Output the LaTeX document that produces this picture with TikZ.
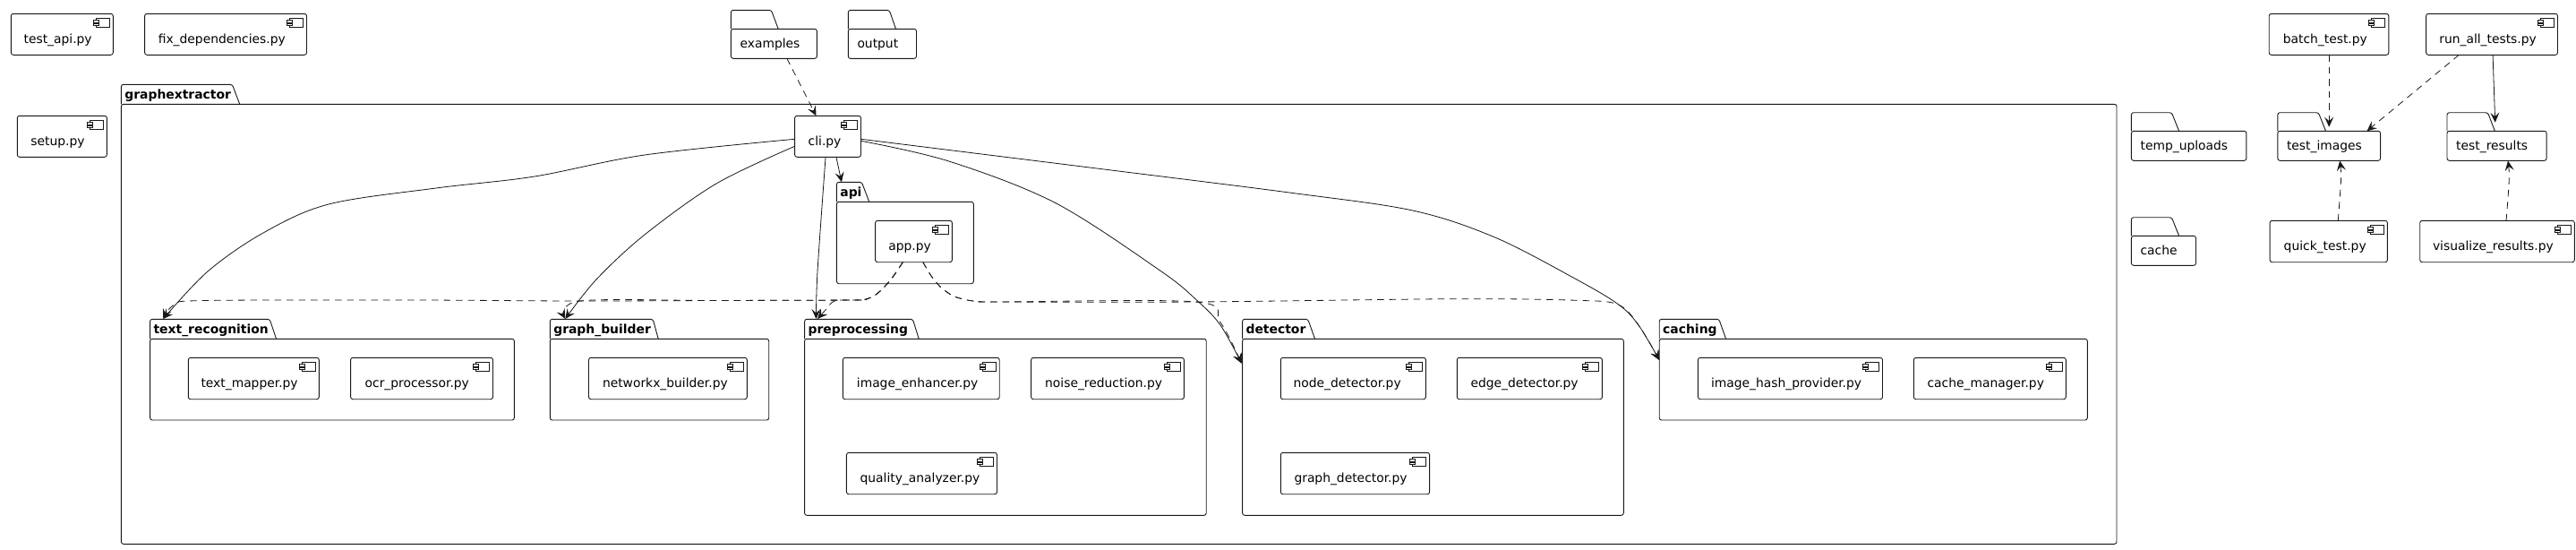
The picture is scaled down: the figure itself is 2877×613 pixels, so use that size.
\documentclass[tikz,border=0pt]{standalone}
\usepackage{fontspec}
\setmainfont{DejaVu Sans}
\usetikzlibrary{arrows.meta,calc}
\definecolor{umlline}{HTML}{181818}
\tikzset{
  boxline/.style={draw=umlline,line width=0.9pt,rounded corners=2.5pt,inner sep=0pt,outer sep=0pt},
  dep/.style={draw=umlline,line width=0.8pt,line join=round,-{Stealth[length=11pt,width=10pt,inset=4.5pt]}},
  use/.style={dep},
  dash7/.style={dash pattern=on 7.5pt off 6pt},
  wire/.style={smooth,tension=0.55},
  icon/.style={draw=umlline,line width=0.7pt,fill=white},
  pkgtitle/.style={inner sep=0pt,outer sep=0pt,anchor=base west,font=\fontsize{13.9}{16}\selectfont\bfseries},
}
% component: id x1 y1 x2 y2 textleft text
\newcommand{\comp}[7]{%
  \node[boxline,minimum width=#4pt-#2pt,minimum height=#5pt-#3pt,font=\fontsize{13.85}{16}\selectfont] (#1) at ({(#2+#4)/2},{(#3+#5)/2})
    {\makebox[\dimexpr#4pt-#2pt\relax][l]{\hspace{\dimexpr#6pt-#2pt\relax}\raisebox{-10pt}[0pt][0pt]{#7}}};
  \draw[icon] (#4-19.2,#3+5) rectangle (#4-4.2,#3+15.4);
  \draw[icon] (#4-22.2,#3+7.2) rectangle (#4-16.2,#3+9.8);
  \draw[icon] (#4-22.2,#3+10.8) rectangle (#4-16.2,#3+13.4);
}
% folder/package body: id x1 ytab ybody x2 y2 tabtopright tabbottomright
\newcommand{\pkgshape}[8]{%
  \coordinate (#1-tl) at (#2,#3);
  \draw[draw=umlline,line width=0.9pt,rounded corners=2.5pt] (#2,#4) -- (#2,#3) -- (#7,#3) -- (#8,#4);
}
% top level folder with its name in the body
\newcommand{\folder}[9]{%
  \pkgshape{#1}{#2}{#3}{#4}{#5}{#6}{#7}{#8}
  \node[boxline,minimum width=#5pt-#2pt,minimum height=#6pt-#4pt,font=\fontsize{13.85}{16}\selectfont] (#1) at ({(#2+#5)/2},{(#4+#6)/2})
    {\makebox[\dimexpr#5pt-#2pt\relax][l]{\hspace{10.2pt}\raisebox{-5pt}[0pt][0pt]{#9}}};
}
% package with its name in the tab
\newcommand{\package}[9]{%
  \pkgshape{#1}{#2}{#3}{#4}{#5}{#6}{#7}{#8}
  \node[boxline,minimum width=#5pt-#2pt,minimum height=#6pt-#4pt] (#1) at ({(#2+#5)/2},{(#4+#6)/2}) {};
  \node[pkgtitle] (#1-title) at (#2+4,#4-5.5) {#9};
}
\begin{document}
\begin{tikzpicture}[x=1pt,y=-1pt]
\useasboundingbox (0,0) rectangle (2877,613);
\fill[white] (0,0) rectangle (2877,613);

\comp{testapi}{12.4}{15.3}{126.3}{61.3}{26.6}{test\_api.py}
\comp{fixdep}{161.6}{15.3}{342.5}{61.3}{176.8}{fix\_dependencies.py}
\comp{setup}{19.3}{129.3}{119.4}{175.3}{34.4}{setup.py}
\folder{examples}{816.4}{11.3}{32.3}{912.4}{65.3}{861.4}{869.2}{examples}
\folder{output}{947.3}{11.3}{32.3}{1023.5}{65.3}{993.2}{1000.5}{output}

\package{gx}{135.4}{94.3}{116.3}{2364}{607.3}{259.4}{267.7}{graphextractor}
\comp{cli}{887.6}{129.3}{961.5}{175.3}{902.7}{cli.py}
\package{api}{934.4}{203.3}{225.3}{1087.3}{316.7}{962.4}{970.7}{api}
\comp{app}{977.6}{246.3}{1063.4}{292.7}{992.3}{app.py}

\package{trec}{167.6}{356.3}{378.3}{574.4}{469}{301.2}{308.5}{text\_recognition}
\comp{tmap}{210.3}{399.3}{356.3}{445.7}{224.5}{text\_mapper.py}
\comp{ocr}{391.6}{399.3}{550.5}{445.7}{407.7}{ocr\_processor.py}
\package{gb}{614.3}{356.3}{378.3}{858.7}{469}{729.2}{735.2}{graph\_builder}
\comp{nx}{657.5}{399.3}{834.3}{445.7}{673}{networkx\_builder.py}
\package{pre}{898.6}{356.3}{378.3}{1347.2}{575.3}{1019.4}{1026.2}{preprocessing}
\comp{enh}{941.3}{399.3}{1116.2}{445.7}{956.9}{image\_enhancer.py}
\comp{noise}{1151.6}{399.3}{1322.4}{445.7}{1167.2}{noise\_reduction.py}
\comp{qual}{945.4}{505.3}{1113.5}{551.7}{960.6}{quality\_analyzer.py}
\package{det}{1387.6}{356.3}{378.3}{1813.3}{575.3}{1460.7}{1468.5}{detector}
\comp{node}{1430.3}{399.3}{1592.4}{445.7}{1444.6}{node\_detector.py}
\comp{edge}{1627.3}{399.3}{1789.4}{445.7}{1642.5}{edge\_detector.py}
\comp{gdet}{1430.3}{505.3}{1596.6}{551.7}{1445.5}{graph\_detector.py}
\package{cach}{1853.2}{356.3}{378.3}{2331.3}{469}{1919.8}{1927.6}{caching}
\comp{hash}{1896.4}{399.3}{2102.5}{445.7}{1911}{image\_hash\_provider.py}
\comp{cman}{2137.3}{399.3}{2307.3}{445.7}{2152.6}{cache\_manager.py}

\folder{tup}{2380.4}{125.7}{146.3}{2508.9}{179.3}{2425.4}{2433.6}{temp\_uploads}
\folder{cachef}{2380.4}{242.7}{263.3}{2452.5}{296.3}{2425.4}{2433.6}{cache}
\folder{timg}{2543.8}{125.7}{146.3}{2658.6}{179.3}{2589.3}{2597.5}{test\_images}
\folder{tres}{2733}{125.7}{146.3}{2844.1}{179.3}{2778.5}{2786.3}{test\_results}
\comp{batch}{2534.2}{15.3}{2667.8}{61.3}{2549.8}{batch\_test.py}
\comp{runall}{2709.6}{15.3}{2856.5}{61.3}{2724.3}{run\_all\_tests.py}
\comp{quick}{2535.1}{246.3}{2666.4}{292.7}{2550.7}{quick\_test.py}
\comp{vis}{2702.7}{246.3}{2875.3}{292.7}{2717}{visualize\_results.py}

% cli.py uses
\draw[use] plot[wire] coordinates {([yshift=-3pt]cli.west) (720,173) (597,197) (487,210) (367,228) (294,260) (232,303) (182.3,356)};
\draw[use] plot[wire] coordinates {([yshift=-11pt]cli.west) (800,205) (720,262) (666,312) (631.3,356)};
\draw[use] plot[wire] coordinates {([xshift=-2.5pt]cli.south) (913,303) (911.5,356)};
\draw[use] plot[wire] coordinates {([xshift=9.4pt]cli.south) (939.9,203.3)};
\draw[use] plot[wire] coordinates {([yshift=-5pt]cli.east) (1059.8,180) (1179,226.7) (1297,303) (1337.5,336) (1363,363) (1386.7,405.7)};
\draw[use] plot[wire] coordinates {([yshift=-3pt]cli.east) (1225,188) (1440,215) (1577.7,235) (1669.6,265) (1759,311) (1807.3,339.7) (1830,363) (1853.2,402)};

% dashed dependencies
\draw[dep,dash7] (examples.south west -| 878.9,0) -- (cli.north west -| 911.5,0);
\draw[dep,dash7] plot[wire] coordinates {([xshift=-12.2pt]app.south) (998,308) (988,320) (978,329) (967,334) (953,335) (800,335.5) (643,336) (459,335) (229.6,335.5) (195,340) (182.3,356)};
\draw[dep,dash7] plot[wire] coordinates {([xshift=-12.2pt]app.south) (998,308) (988,320) (978,329) (967,334) (953,335) (800,335.5) (648,336) (631.3,356)};
\draw[dep,dash7] plot[wire] coordinates {([xshift=-12.2pt]app.south) (998,308) (988,320) (978,329) (967,334) (953,335) (940,335) (930,337) (922,346) (913,356)};
\draw[dep,dash7] plot[wire] coordinates {([xshift=10.3pt]app.south) (1040,308) (1050,320) (1062,329) (1072,333) (1087,336) (1113,337) (1335,337) (1362.8,359.7) (1386.7,405.7)};
\draw[dep,dash7] plot[wire] coordinates {([xshift=10.3pt]app.south) (1040,308) (1050,320) (1062,329) (1072,333) (1087,336) (1113,337) (1335,337) (1623.7,333.7) (1761,335.3) (1807,340) (1830,363) (1853.2,402)};
\draw[dep,dash7] (batch.south west -| 2601.2,0) -- (2601.2,141.7);
\draw[dep,dash7] plot[wire] coordinates {([xshift=-36.8pt]runall.south) (2643.5,146.3)};
\draw[use] ([xshift=1pt]runall.south) -- (2786.7,136.7);
\draw[dep,dash7] plot[wire] coordinates {([xshift=10.5pt]quick.north) (2614.5,200) (2613.2,179.5)};
\draw[dep,dash7] plot[wire] coordinates {([xshift=10pt]vis.north) (2802.3,200) (2801,179.5)};
\end{tikzpicture}
\end{document}
